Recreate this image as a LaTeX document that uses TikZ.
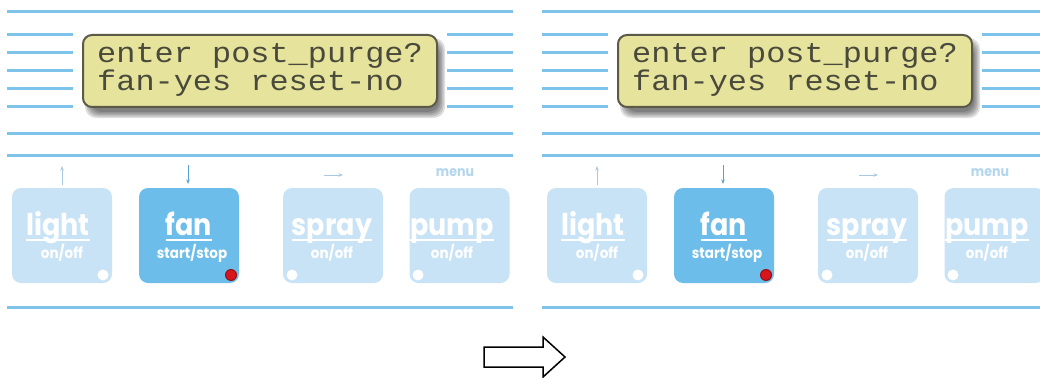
\documentclass[tikz,border=0pt]{standalone}
\usepackage{fontspec}
\newfontfamily\btnfont[FakeStretch=0.9]{Poppins}
\newfontfamily\lcdfont[FakeStretch=1.12]{Liberation Mono}
\usetikzlibrary{arrows.meta}
\definecolor{stripe}{HTML}{7EC3EA}
\definecolor{paleblue}{HTML}{C8E3F6}
\definecolor{fanblue}{HTML}{6DBDEA}
\definecolor{lcdfill}{HTML}{E6E49C}
\definecolor{lcdline}{HTML}{5B5A48}
\definecolor{lcdtext}{HTML}{4A4A3C}
\definecolor{faintarrow}{HTML}{A9C9E2}
\definecolor{downarrow}{HTML}{5AA0D5}
\definecolor{menublue}{HTML}{B3D6EE}
\definecolor{ledred}{HTML}{D8141C}
\tikzset{
  stripeline/.style={draw=stripe, line width=3pt},
  lcdbox/.style={draw=lcdline, fill=lcdfill, line width=2pt, rounded corners=9pt,
    minimum width=354pt, minimum height=72pt, inner sep=0pt},
  lcdshadow/.style={fill=black, opacity=0.13, rounded corners=11pt},
  lcdtxt/.style={font=\lcdfont\fontsize{28.5}{28.5}\selectfont, text=lcdtext, inner sep=0pt, anchor=base west},
  btnbox/.style={fill=#1, rounded corners=9pt, minimum width=100pt, minimum height=95pt, inner sep=0pt},
  bigtxt/.style={font=\btnfont\bfseries\fontsize{30}{30}\selectfont, text=white, inner sep=0pt, anchor=base},
  smalltxt/.style={font=\btnfont\bfseries\fontsize{15}{15}\selectfont, text=white, inner sep=0pt, anchor=base},
  uline/.style={draw=white, line width=1.6pt},
  keyarrow/.style={-{Stealth[length=4.5pt,width=3.5pt]}, line width=0.9pt, draw=#1},
  menutxt/.style={font=\btnfont\bfseries\fontsize{14}{14}\selectfont, text=menublue, inner sep=0pt},
  bigarrow/.style={draw=black, line width=1.5pt, fill=white, line join=miter},
  panel/.pic={
    % stripes
    \draw[stripeline] (7,12) -- (513,12);
    \foreach \yy in {35,53,71,89,107}{
      \draw[stripeline] (7,\yy) -- (73,\yy);
      \draw[stripeline] (447,\yy) -- (513,\yy);
    }
    \draw[stripeline] (7,133) -- (513,133);
    \draw[stripeline] (7,155) -- (513,155);
    \draw[stripeline] (7,307) -- (513,307);
    % LCD shadow
    \foreach \dd in {0,1.5,3,4.5,6}{
      \fill[lcdshadow] (85+\dd,38+\dd) rectangle (445-\dd,118-\dd);
    }
    % LCD
    \node[lcdbox] (-lcd) at (260,71) {};
    \node[lcdtxt] (-row1) at (97,63) {enter post\_purge?};
    \node[lcdtxt] (-row2) at (97,91) {fan-yes reset-no};
    % buttons
    \node[btnbox=paleblue] (-light) at (62,235.5) {};
    \node[btnbox=fanblue]  (-fan)   at (189,235.5) {};
    \node[btnbox=paleblue] (-spray) at (333,235.5) {};
    \node[btnbox=paleblue] (-pump)  at (459.5,235.5) {};
    % button labels
    \node[bigtxt] (-lightt) at (58,235) {light};
    \node[bigtxt] (-fant)   at (189,235) {fan};
    \node[bigtxt] (-sprayt) at (332,235) {spray};
    \node[bigtxt] (-pumpt)  at (452,235) {pump};
    \foreach \nn in {lightt,fant,sprayt,pumpt}{
      \draw[uline] ([yshift=-5pt]-\nn.base west) -- ([yshift=-5pt]-\nn.base east);
    }
    \node[smalltxt] (-lights) at (62,258) {on/off};
    \node[smalltxt] (-fans)   at (192,258) {start/stop};
    \node[smalltxt] (-sprays) at (332,258) {on/off};
    \node[smalltxt] (-pumps)  at (452,258) {on/off};
    % LEDs
    \fill[white] (103,275) circle (5.5);
    \fill[ledred!70!black] (231,275) circle (6);
    \fill[ledred] (231,275) circle (5);
    \fill[white] (292,275) circle (5.5);
    \fill[white] (418,275) circle (5.5);
    % key hints
    \coordinate (-upa) at (62,185);
    \coordinate (-upb) at (62,166);
    \coordinate (-dna) at (188,165);
    \coordinate (-dnb) at (188,184);
    \coordinate (-rta) at (324,175);
    \coordinate (-rtb) at (343,175);
    \draw[keyarrow=faintarrow] (-upa) -- (-upb);
    \draw[keyarrow=downarrow] (-dna) -- (-dnb);
    \draw[keyarrow=faintarrow] (-rta) -- (-rtb);
    \node[menutxt] (-menu) at (455,173) {menu};
  }
}
\begin{document}
\begin{tikzpicture}[x=1pt,y=-1pt]
  \useasboundingbox (0,0) rectangle (1040,377);
  \fill[white] (0,0) rectangle (1040,377);
  \pic (L) at (0,0) {panel};
  \pic (R) at (535,0) {panel};
  \draw[bigarrow] (484,347) -- (543,347) -- (543,337) -- (565,357) -- (543,377)
    -- (543,367) -- (484,367) -- cycle;
\end{tikzpicture}
\end{document}
